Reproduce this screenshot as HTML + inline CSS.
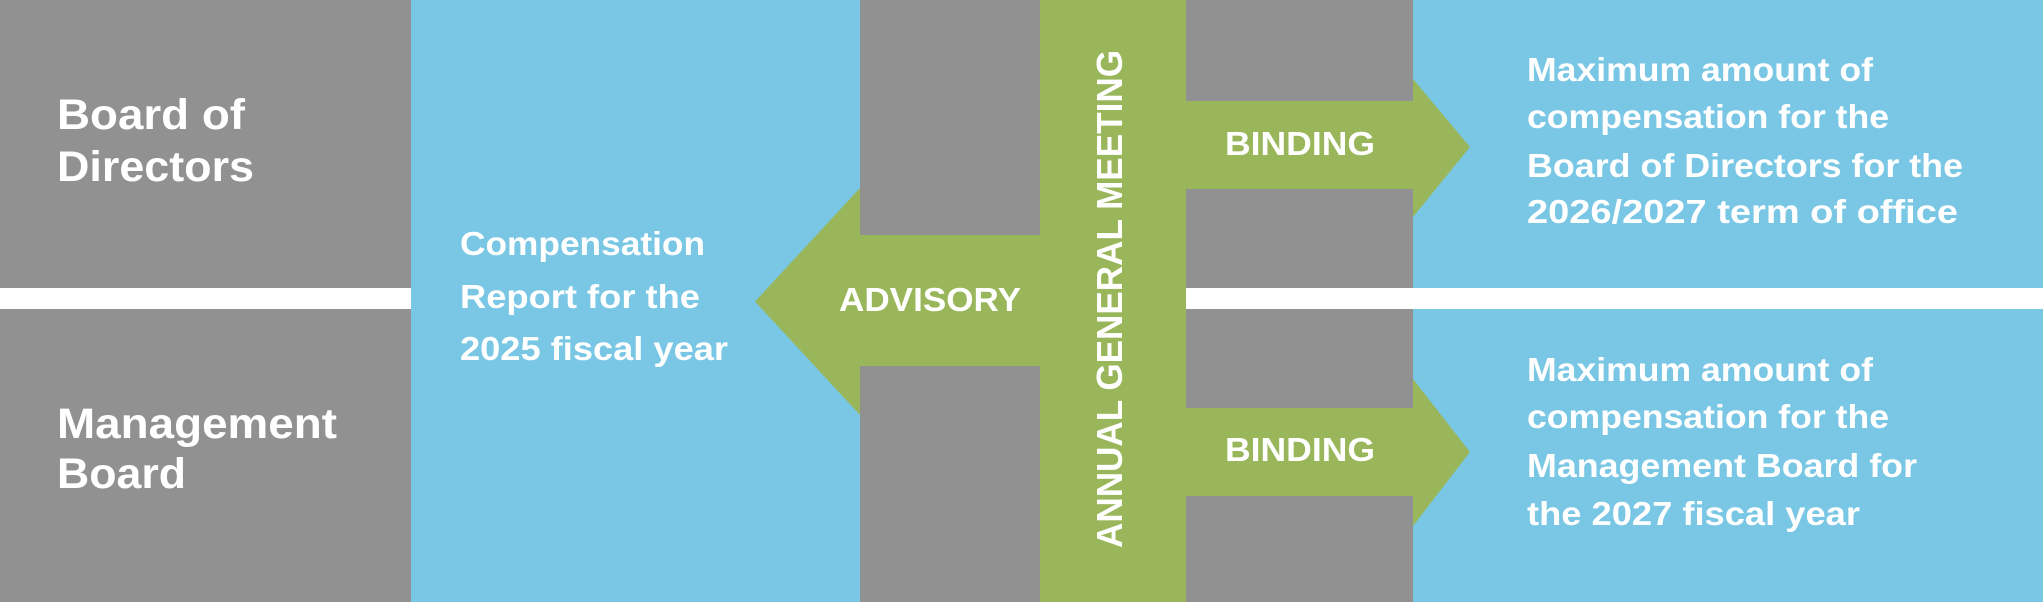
<!DOCTYPE html>
<html><head><meta charset="utf-8"><style>html,body{margin:0;padding:0;background:#fff}svg{display:block}</style></head>
<body>
<svg width="2043" height="602" viewBox="0 0 2043 602" xmlns="http://www.w3.org/2000/svg" font-family="Liberation Sans, sans-serif" font-weight="bold" fill="#fff">
<rect x="0" y="0" width="2043" height="602" fill="#919191"/>
<rect x="411" y="0" width="449" height="602" fill="#79c7e5"/>
<rect x="1413" y="0" width="630" height="602" fill="#79c7e5"/>
<rect x="0" y="288" width="411" height="21" fill="#fff"/>
<rect x="1186" y="288" width="857" height="21" fill="#fff"/>
<rect x="1040" y="0" width="146" height="602" fill="#99b75a"/>
<polygon points="1040,235 860,235 860,188 755,301.5 860,415 860,366 1040,366" fill="#99b75a"/>
<polygon points="1186,101 1413,101 1413,79 1470,147 1413,217 1413,189 1186,189" fill="#99b75a"/>
<polygon points="1186,408 1413,408 1413,379 1470,452 1413,526 1413,496 1186,496" fill="#99b75a"/>
<g font-size="43">
<text x="57" y="129" textLength="188" lengthAdjust="spacingAndGlyphs">Board of</text>
<text x="57" y="181" textLength="197" lengthAdjust="spacingAndGlyphs">Directors</text>
<text x="57" y="438" textLength="280" lengthAdjust="spacingAndGlyphs">Management</text>
<text x="57" y="488" textLength="129" lengthAdjust="spacingAndGlyphs">Board</text>
</g>
<g font-size="33">
<text x="460" y="255" textLength="245" lengthAdjust="spacingAndGlyphs">Compensation</text>
<text x="460" y="308" textLength="240" lengthAdjust="spacingAndGlyphs">Report for the</text>
<text x="460" y="360" textLength="268" lengthAdjust="spacingAndGlyphs">2025 fiscal year</text>
<text x="839" y="311" textLength="182" lengthAdjust="spacingAndGlyphs">ADVISORY</text>
<text x="1225" y="155" textLength="150" lengthAdjust="spacingAndGlyphs">BINDING</text>
<text x="1225" y="461" textLength="150" lengthAdjust="spacingAndGlyphs">BINDING</text>
<text x="1527" y="81" textLength="346" lengthAdjust="spacingAndGlyphs">Maximum amount of</text>
<text x="1527" y="128" textLength="362" lengthAdjust="spacingAndGlyphs">compensation for the</text>
<text x="1527" y="177" textLength="436" lengthAdjust="spacingAndGlyphs">Board of Directors for the</text>
<text x="1527" y="223" textLength="431" lengthAdjust="spacingAndGlyphs">2026/2027 term of office</text>
<text x="1527" y="381" textLength="346" lengthAdjust="spacingAndGlyphs">Maximum amount of</text>
<text x="1527" y="428" textLength="362" lengthAdjust="spacingAndGlyphs">compensation for the</text>
<text x="1527" y="477" textLength="390" lengthAdjust="spacingAndGlyphs">Management Board for</text>
<text x="1527" y="525" textLength="333" lengthAdjust="spacingAndGlyphs">the 2027 fiscal year</text>
</g>
<text transform="translate(1122,548) rotate(-90)" font-size="36" textLength="498" lengthAdjust="spacingAndGlyphs">ANNUAL GENERAL MEETING</text>
</svg>
</body></html>
